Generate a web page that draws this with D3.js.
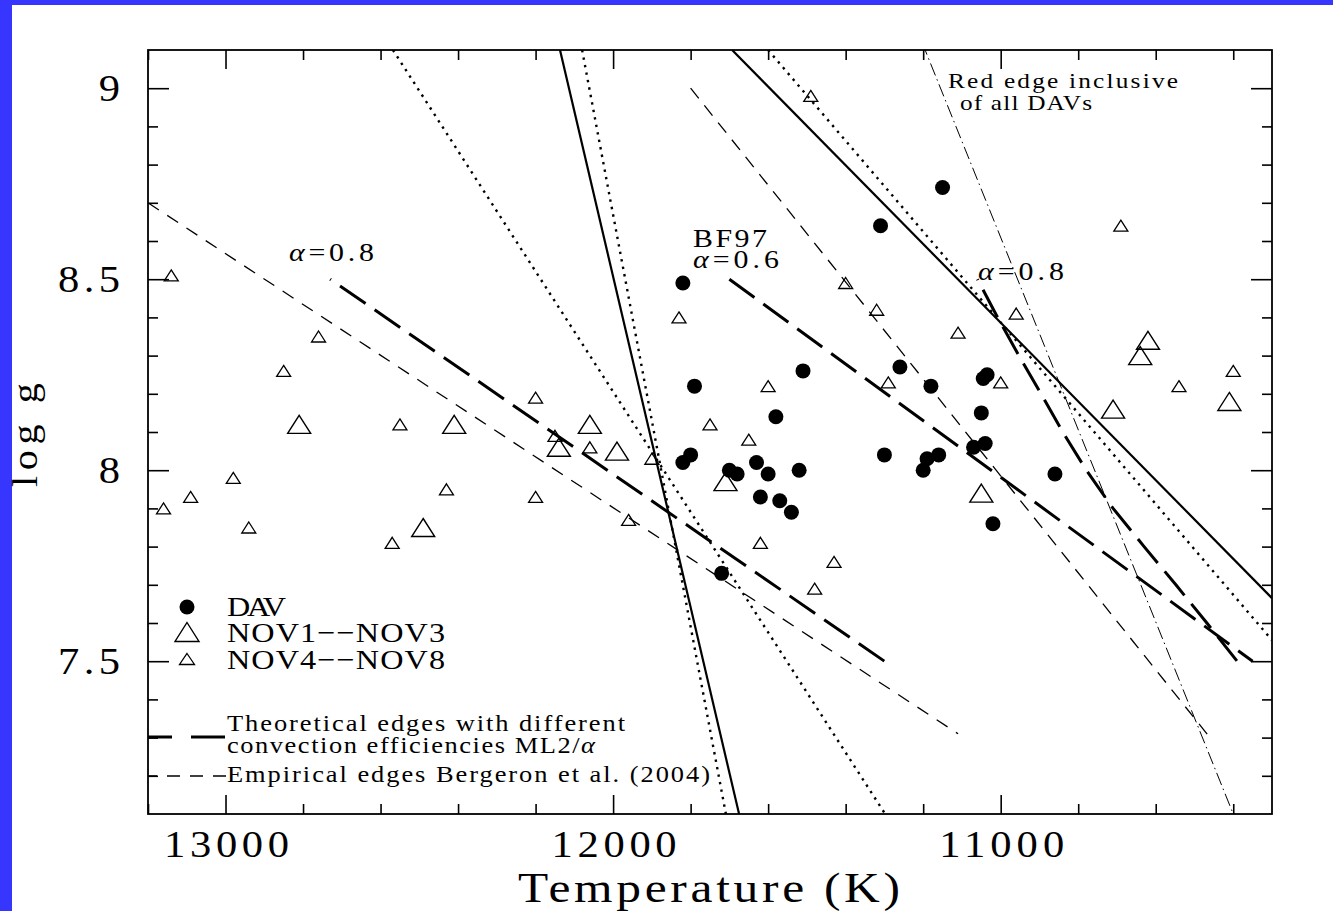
<!DOCTYPE html>
<html>
<head>
<meta charset="utf-8">
<script src="https://cdn.jsdelivr.net/npm/d3@7"></script>
<style>
  html, body { margin: 0; padding: 0; background: #fff; }
  svg { display: block; }
  text { font-family: "Liberation Serif", "DejaVu Serif", serif; fill: #000; }
</style>
</head>
<body>
<svg id="chart" width="1333" height="911"></svg>
<script>
// ---- Data: effective temperature (K) and log g ----
const dav = [
  [11820, 8.49], [11150, 8.74], [11310, 8.64], [11790, 8.22], [11510, 8.26],
  [11580, 8.14], [11800, 8.04], [11820, 8.02], [11700, 8.00], [11680, 7.99],
  [11630, 8.02], [11600, 7.99], [11520, 8.00], [11620, 7.93], [11570, 7.92],
  [11540, 7.89], [11720, 7.73], [11260, 8.27], [11180, 8.22], [11045, 8.24],
  [11035, 8.25], [11050, 8.15], [11040, 8.07], [11070, 8.06], [11300, 8.04],
  [11160, 8.04], [11190, 8.03], [11200, 8.00], [10860, 7.99], [11020, 7.86]
];
const nov1to3 = [
  [12810, 8.12], [12410, 8.12], [12140, 8.06], [12060, 8.12], [11990, 8.05],
  [12490, 7.85], [11710, 7.97], [10620, 8.34], [10640, 8.30], [10410, 8.18],
  [10710, 8.16], [11050, 7.94]
];
const nov4to8 = [
  [13140, 8.51], [12760, 8.35], [12850, 8.26], [12550, 8.12], [12980, 7.98],
  [13090, 7.93], [13160, 7.90], [12940, 7.85], [12570, 7.81], [12200, 8.19],
  [12150, 8.09], [12060, 8.06], [11900, 8.03], [12430, 7.95], [12200, 7.93],
  [11960, 7.87], [11830, 8.40], [11750, 8.12], [11650, 8.08], [11600, 8.22],
  [11620, 7.81], [11430, 7.76], [11480, 7.69], [11400, 8.49], [11490, 8.98],
  [11320, 8.42], [11110, 8.36], [10960, 8.41], [11290, 8.23], [11000, 8.23],
  [10400, 8.26], [10540, 8.22], [10690, 8.64]
];

// Empirical instability-strip edges (Bergeron et al. 2004)
const empiricalBlue = [[13200, 8.70], [11110, 7.31]];
const empiricalRed  = [[11800, 9.00], [10460, 7.30]];
// Theoretical edges, ML2/alpha
const theoryBlue08 = [[12730, 8.50], [11300, 7.50]];
const theoryBF97   = [[11700, 8.50], [10350, 7.50]];
const theoryRed08  = [
  [11060, 8.5], [11008, 8.4], [10953, 8.3], [10896, 8.2], [10840, 8.1], [10779, 8.0],
  [10710, 7.9], [10630, 7.8], [10548, 7.7], [10468, 7.6], [10390, 7.5]
];
// Solid and dotted edges
const solidEdges  = [
  [[12137, 9.1], [11675, 7.1]],
  [[11693, 9.1], [10300, 7.665]]
];
const dottedEdges = [
  [[12568, 9.1], [11298, 7.1]],
  [[12080, 9.1], [11709, 7.1]],
  [[11600, 9.1], [10300, 7.555]]
];
// Red edge inclusive of all DAVs
const redEdgeAll = [[11195, 9.1], [10400, 7.1]];

// Axis ticks
const xMajor = [13000, 12000, 11000];
const xMinor = d3.range(10400, 13201, 200);
const yMajor = [7.5, 8, 8.5, 9];
const yMinor = d3.range(7.2, 9.05, 0.1).map(v => +v.toFixed(1));
const xTickLabels = ["13000", "12000", "11000"];
const yTickLabels = ["7.5", "8", "8.5", "9"];

// ---- Layout ----
const W = 1333, H = 911;
const L = 148, R = 1272, T = 50, B = 814;
const SX = 1.15; // horizontal widening of glyphs
const svg = d3.select("#chart");

svg.append("rect").attr("x", 0).attr("y", 0).attr("width", W).attr("height", H).attr("fill", "#fff");
svg.append("rect").attr("x", 0).attr("y", 0).attr("width", 12).attr("height", H).attr("fill", "#3636ff");
svg.append("rect").attr("x", 0).attr("y", 0).attr("width", W).attr("height", 5).attr("fill", "#3636ff");

const x = d3.scaleLinear().domain([13200, 10300]).range([L, R]);
const y = d3.scaleLinear().domain([7.1, 9.1]).range([B, T]);

svg.append("defs").append("clipPath").attr("id", "plotclip")
  .append("rect").attr("x", L).attr("y", T).attr("width", R - L).attr("height", B - T);

// Text helper: widened glyphs, total width fixed by textLength
function addText(xp, yp, size, len, anchor, parts, rotate) {
  const tr = `translate(${xp},${yp})` + (rotate ? ` rotate(${rotate})` : "") + ` scale(${SX},1)`;
  const t = svg.append("text").attr("transform", tr).attr("x", 0).attr("y", 0)
    .attr("font-size", size).attr("text-anchor", anchor || "start")
    .attr("textLength", len / SX).attr("lengthAdjust", "spacing");
  parts.forEach(p => {
    const s = t.append("tspan").text(p.t);
    if (p.i) s.attr("font-style", "italic");
  });
  return t;
}

// ---- Axes: inward ticks on all four sides ----
function tickAxis(axis, tx, ty, vals, size) {
  const g = svg.append("g").attr("transform", `translate(${tx},${ty})`)
    .call(axis.tickValues(vals).tickSize(-size).tickFormat(""));
  g.select(".domain").remove();
  g.selectAll("line").attr("stroke", "#000").attr("stroke-width", 1.6);
}
const xMinorOnly = xMinor.filter(v => !xMajor.includes(v));
const yMinorOnly = yMinor.filter(v => !yMajor.includes(v));
tickAxis(d3.axisBottom(x), 0, B, xMinorOnly, 10);
tickAxis(d3.axisBottom(x), 0, B, xMajor, 19);
tickAxis(d3.axisTop(x), 0, T, xMinorOnly, 10);
tickAxis(d3.axisTop(x), 0, T, xMajor, 19);
tickAxis(d3.axisLeft(y), L, 0, yMinorOnly, 10);
tickAxis(d3.axisLeft(y), L, 0, yMajor, 21);
tickAxis(d3.axisRight(y), R, 0, yMinorOnly, 10);
tickAxis(d3.axisRight(y), R, 0, yMajor, 21);

svg.append("rect").attr("x", L).attr("y", T).attr("width", R - L).attr("height", B - T)
  .attr("fill", "none").attr("stroke", "#000").attr("stroke-width", 1.8);

// Tick labels
xMajor.forEach((v, i) => addText(x(v) + 1, 857, 37, 125, "middle", [{ t: xTickLabels[i] }]));
yMajor.forEach((v, i) => addText(120, y(v) + 13, 37, yTickLabels[i].length > 1 ? 62 : 20, "end", [{ t: yTickLabels[i] }]));

// Axis titles
addText(709, 902, 43, 382, "middle", [{ t: "Temperature (K)" }]);
addText(37, 435, 35, 104, "middle", [{ t: "log g" }], -90);

// ---- Edges ----
const plot = svg.append("g").attr("clip-path", "url(#plotclip)");
const line = d3.line().x(d => x(d[0])).y(d => y(d[1]));

function drawLine(data, width, dash, offset) {
  plot.append("path").datum(data).attr("d", line)
    .attr("fill", "none").attr("stroke", "#000").attr("stroke-width", width)
    .attr("stroke-dasharray", dash || null)
    .attr("stroke-dashoffset", offset || 0);
}
drawLine(empiricalBlue, 1.3, "13,10");
drawLine(empiricalRed, 1.3, "13,9");
drawLine(theoryBlue08, 3, "31,11", 30);
drawLine(theoryBF97, 3, "31,11", 0);
drawLine(theoryRed08, 3, "31,11", 30);
solidEdges.forEach(e => drawLine(e, 2.2));
dottedEdges.forEach(e => drawLine(e, 2.4, "2.4,5.2"));
drawLine(redEdgeAll, 1.0, "13,4,1.5,4", 8);

// ---- Markers ----
function triPath(w, h) {
  return `M0,${-h / 2}L${w / 2},${h / 2}L${-w / 2},${h / 2}Z`;
}
const markers = svg.append("g");
markers.selectAll("path.nov48").data(nov4to8).join("path").attr("class", "nov48")
  .attr("transform", d => `translate(${x(d[0])},${y(d[1])})`)
  .attr("d", triPath(14, 11)).attr("fill", "none").attr("stroke", "#000").attr("stroke-width", 1.3);
markers.selectAll("path.nov13").data(nov1to3).join("path").attr("class", "nov13")
  .attr("transform", d => `translate(${x(d[0])},${y(d[1])})`)
  .attr("d", triPath(23, 18)).attr("fill", "none").attr("stroke", "#000").attr("stroke-width", 1.4);
markers.selectAll("circle").data(dav).join("circle")
  .attr("cx", d => x(d[0])).attr("cy", d => y(d[1])).attr("r", 7.5).attr("fill", "#000");

// ---- Annotations ----
addText(948, 88, 22, 230, "start", [{ t: "Red edge inclusive" }]);
addText(960, 110, 22, 132, "start", [{ t: "of all DAVs" }]);
addText(289, 261, 26, 85, "start", [{ t: "α", i: true }, { t: "=0.8" }]);
addText(693, 247, 26, 74, "start", [{ t: "BF97" }]);
addText(693, 268, 26, 86, "start", [{ t: "α", i: true }, { t: "=0.6" }]);
addText(978, 280, 26, 86, "start", [{ t: "α", i: true }, { t: "=0.8" }]);

// ---- Legend ----
const lg = svg.append("g");
lg.append("circle").attr("cx", 187).attr("cy", 607).attr("r", 7.5).attr("fill", "#000");
lg.append("path").attr("transform", "translate(187,632)").attr("d", triPath(24, 19))
  .attr("fill", "none").attr("stroke", "#000").attr("stroke-width", 1.4);
lg.append("path").attr("transform", "translate(187,659)").attr("d", triPath(15, 11))
  .attr("fill", "none").attr("stroke", "#000").attr("stroke-width", 1.3);
addText(227, 616, 28, 59, "start", [{ t: "DAV" }]);
addText(227, 642, 28, 218, "start", [{ t: "NOV1−−NOV3" }]);
addText(227, 669, 28, 218, "start", [{ t: "NOV4−−NOV8" }]);

lg.append("line").attr("x1", L).attr("x2", 226).attr("y1", 737).attr("y2", 737)
  .attr("stroke", "#000").attr("stroke-width", 3).attr("stroke-dasharray", "34,19").attr("stroke-dashoffset", 10);
lg.append("line").attr("x1", L).attr("x2", 226).attr("y1", 776).attr("y2", 776)
  .attr("stroke", "#000").attr("stroke-width", 1.3).attr("stroke-dasharray", "13,10").attr("stroke-dashoffset", 4);
addText(227, 731, 23, 398, "start", [{ t: "Theoretical edges with different" }]);
addText(227, 753, 23, 368, "start", [{ t: "convection efficiencies ML2/" }, { t: "α", i: true }]);
addText(227, 782, 23, 483, "start", [{ t: "Empirical edges Bergeron et al. (2004)" }]);
</script>
</body>
</html>
